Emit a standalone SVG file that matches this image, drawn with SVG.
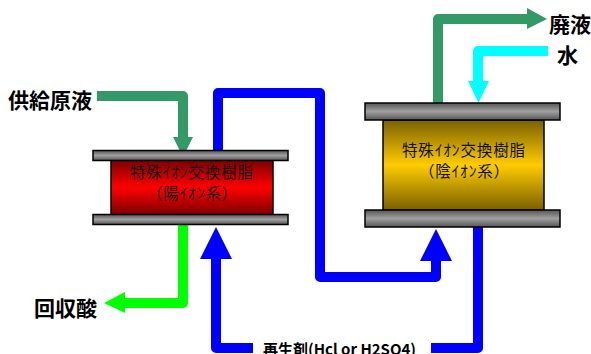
<svg xmlns="http://www.w3.org/2000/svg" width="591" height="354" viewBox="0 0 591 354">
<style>
.c{fill:none;stroke-width:10;stroke-linejoin:round}
.f{stroke:#000;stroke-width:1.5;fill:url(#g)}
.b{stroke:#000;stroke-width:1.5}
text{font-family:"Noto Sans CJK JP","DejaVu Sans",sans-serif;fill:#000}
.l{font-size:21px;font-weight:700}
.i{font-size:15.500px;fill:#111}
</style>
<defs>
<linearGradient id="g" x1="0" y1="0" x2="0" y2="1"><stop offset="0" stop-color="#555"/><stop offset=".5" stop-color="#a0a0a0"/><stop offset="1" stop-color="#555"/></linearGradient>
<linearGradient id="r" x1="0" y1="0" x2="0" y2="1"><stop offset="0" stop-color="#7a0000"/><stop offset=".5" stop-color="#f00"/><stop offset="1" stop-color="#7a0000"/></linearGradient>
<linearGradient id="y" x1="0" y1="0" x2="0" y2="1"><stop offset="0" stop-color="#7a6000"/><stop offset=".5" stop-color="#fc0"/><stop offset="1" stop-color="#7a6000"/></linearGradient>
</defs>
<g id="connectors">
<path class="c" stroke="#339966" d="M97 96H183V138"/><path fill="#339966" d="M173 137H193L183 157Z"/>
<path class="c" stroke="#339966" d="M438 103V19H528"/><path fill="#339966" d="M527 8L547 19L527 29Z"/>
<path class="c" stroke="#0ff" d="M548 51H478V82"/><path fill="#0ff" d="M468 81H489L478.500 103Z"/>
<path class="c" stroke="#00f" d="M218 150V93H320V277H436V260"/><path fill="#00f" d="M420 261H452L436 229Z"/>
<path class="c" stroke="#00f" d="M478 226V348H431"/>
<path class="c" stroke="#00f" d="M253 348H216V258"/><path fill="#00f" d="M200 259H232L216 227Z"/>
<path class="c" stroke="#0f0" d="M183 221V303H124"/><path fill="#0f0" d="M125 292V313L104 303Z"/>
</g>
<g id="cation">
<rect x="111" y="160" width="162" height="55" fill="url(#r)" class="b"/>
<rect x="93" y="150.500" width="195" height="10" class="f"/>
<rect x="93" y="214.500" width="195" height="10" class="f"/>
<text class="i" x="130" y="178" textLength="123">特殊ｲｵﾝ交換樹脂</text>
<text class="i" x="147" y="199" textLength="90">（陽ｲｵﾝ系）</text>
</g>
<g id="anion">
<rect x="383" y="120" width="161" height="90" fill="url(#y)" class="b"/>
<rect x="365" y="103" width="195" height="17" class="f"/>
<rect x="365" y="210" width="195" height="17" class="f"/>
<text class="i" x="402" y="156" textLength="123">特殊ｲｵﾝ交換樹脂</text>
<text class="i" x="419" y="177" textLength="90">（陰ｲｵﾝ系）</text>
</g>
<g id="feed"><text class="l" x="8" y="107.500">供給原液</text></g>
<g id="waste"><text class="l" x="549" y="32">廃液</text></g>
<g id="water"><text class="l" x="557" y="63">水</text></g>
<g id="recovered"><text class="l" x="34" y="315.500">回収酸</text></g>
<g id="regen"><text x="263" y="355" font-size="15" font-weight="700">再生剤(Hcl or H2SO4)</text></g>
</svg>
